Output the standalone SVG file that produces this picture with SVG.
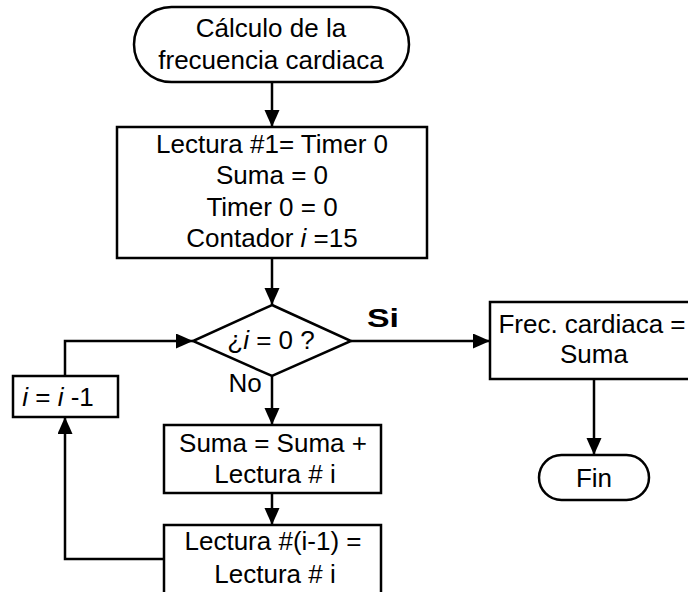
<svg xmlns="http://www.w3.org/2000/svg" width="688" height="592" viewBox="0 0 688 592">
  <style>
    .shape { fill: #ffffff; stroke: #000000; stroke-width: 2.5; }
    .wire { fill: none; stroke: #000000; stroke-width: 2.5; }
    .lbl { font-family: "Liberation Sans", Arial, sans-serif; font-size: 26px; fill: #000000; text-anchor: middle; }
    .it { font-style: italic; }
  </style>
  <defs>
    <marker id="arrow" markerUnits="userSpaceOnUse" markerWidth="18" markerHeight="16" refX="17" refY="7.5" orient="auto">
      <path d="M0,0 L17,7.5 L0,15 Z" fill="#000000"/>
    </marker>
  </defs>
  <rect width="688" height="592" fill="#ffffff"/>

  <!-- connectors -->
  <g id="connectors">
    <line class="wire" x1="272" y1="82" x2="272" y2="127" marker-end="url(#arrow)"/>
    <line class="wire" x1="272" y1="258" x2="272" y2="305" marker-end="url(#arrow)"/>
    <line class="wire" x1="351" y1="341" x2="490" y2="341" marker-end="url(#arrow)"/>
    <line class="wire" x1="594" y1="379" x2="594" y2="455" marker-end="url(#arrow)"/>
    <line class="wire" x1="272" y1="376" x2="272" y2="425" marker-end="url(#arrow)"/>
    <line class="wire" x1="272" y1="493" x2="272" y2="525" marker-end="url(#arrow)"/>
    <polyline class="wire" points="164,559 65,559 65,417" marker-end="url(#arrow)"/>
    <polyline class="wire" points="65,376 65,341 193,341" marker-end="url(#arrow)"/>
    <text class="lbl" x="383" y="327" font-weight="bold" textLength="32" lengthAdjust="spacingAndGlyphs">Si</text>
    <text class="lbl" x="245" y="392">No</text>
  </g>

  <g id="start">
    <rect class="shape" x="134" y="7" width="275" height="75" rx="37.5" ry="37.5"/>
    <text class="lbl" x="271" y="37">Cálculo de la</text>
    <text class="lbl" x="271" y="69">frecuencia cardiaca</text>
  </g>

  <g id="init">
    <rect class="shape" x="117" y="127" width="310" height="131"/>
    <text class="lbl" x="272" y="153">Lectura #1= Timer 0</text>
    <text class="lbl" x="272" y="184">Suma = 0</text>
    <text class="lbl" x="272" y="216">Timer 0 = 0</text>
    <text class="lbl" x="272" y="247">Contador <tspan class="it">i</tspan> =15</text>
  </g>

  <g id="decision">
    <polygon class="shape" points="272,305 351,341 272,376 193,341"/>
    <text class="lbl" x="271" y="349">¿<tspan class="it">i</tspan> = 0 ?</text>
  </g>

  <g id="result">
    <rect class="shape" x="490" y="302" width="210" height="77"/>
    <text class="lbl" x="592" y="333">Frec. cardiaca =</text>
    <text class="lbl" x="594" y="363">Suma</text>
  </g>

  <g id="end">
    <rect class="shape" x="539" y="455" width="110" height="45" rx="22.5" ry="22.5"/>
    <text class="lbl" x="594" y="487">Fin</text>
  </g>

  <g id="decrement">
    <rect class="shape" x="13" y="376" width="105" height="41"/>
    <text class="lbl" x="58" y="406"><tspan class="it">i</tspan> = <tspan class="it">i</tspan> -1</text>
  </g>

  <g id="accumulate">
    <rect class="shape" x="164" y="425" width="217" height="68"/>
    <text class="lbl" x="273" y="452">Suma = Suma +</text>
    <text class="lbl" x="275" y="483">Lectura # i</text>
  </g>

  <g id="shift">
    <rect class="shape" x="164" y="525" width="217" height="80"/>
    <text class="lbl" x="273" y="550">Lectura #(i-1) =</text>
    <text class="lbl" x="275" y="583">Lectura # i</text>
  </g>
</svg>
